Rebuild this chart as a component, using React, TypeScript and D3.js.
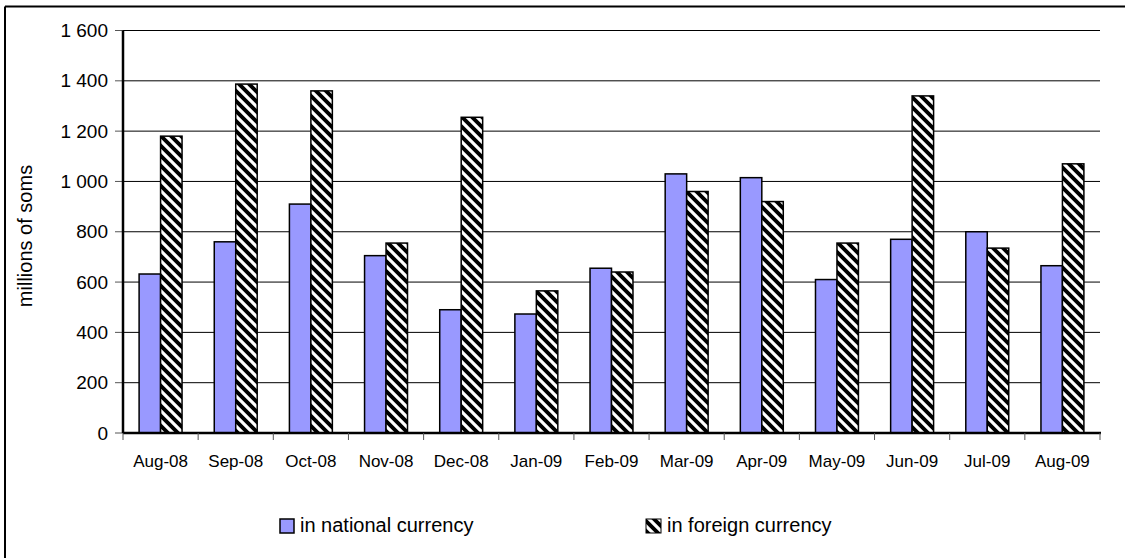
import React from "react";
import * as d3 from "d3";

const categories = ["Aug-08","Sep-08","Oct-08","Nov-08","Dec-08","Jan-09","Feb-09","Mar-09","Apr-09","May-09","Jun-09","Jul-09","Aug-09"];
const nationalValues = [632, 760, 910, 705, 490, 473, 655, 1030, 1015, 610, 770, 800, 665];
const foreignValues = [1180, 1387, 1360, 755, 1255, 565, 640, 960, 920, 755, 1340, 735, 1070];
const yTicks = [0, 200, 400, 600, 800, 1000, 1200, 1400, 1600];
const seriesNames = ["in national currency", "in foreign currency"];

const W = 1125, H = 558;
const left = 123, right = 1100, top = 30.5, bottom = 433;

function fmt(v: number) {
  return d3.format(",")(v).replace(/,/g, " ");
}

export default function App() {
  const x0 = d3.scaleBand<string>().domain(categories).range([left, right]).paddingInner(0).paddingOuter(0);
  const y = d3.scaleLinear().domain([0, 1600]).range([bottom, top]);
  const bw = x0.bandwidth() / 3.5;
  const off = (x0.bandwidth() - 2 * bw) / 2;
  const font = "Arial, 'Liberation Sans', sans-serif";
  return (
    <svg width={W} height={H} style={{ position: "absolute", left: 0, top: 0, background: "#fff" }} fontFamily={font}>
      <defs>
        <pattern id="hatch" patternUnits="userSpaceOnUse" width="10" height="10">
          <rect width="10" height="10" fill="#000" />
          <path d="M-2,-2 L12,12 M-2,8 L2,12 M8,-2 L12,2" stroke="#fff" strokeWidth="3.2" />
        </pattern>
      </defs>
      <rect x={0} y={0} width={W} height={H} fill="#fff" />
      {/* outer frame (cropped) */}
      <line x1={5} y1={6.5} x2={W} y2={6.5} stroke="#000" strokeWidth={2} />
      <line x1={5} y1={6.5} x2={5} y2={H} stroke="#000" strokeWidth={2} />
      {/* gridlines */}
      {yTicks.filter(t => t > 0).map(t => (
        <line key={t} x1={left} x2={right} y1={y(t)} y2={y(t)} stroke="#000" strokeWidth={1} />
      ))}
      {/* y ticks and labels */}
      {yTicks.map(t => (
        <g key={"yt" + t}>
          <line x1={left - 8} x2={left} y1={y(t)} y2={y(t)} stroke="#555" strokeWidth={1} />
          <text x={left - 15} y={y(t)} dy="0.35em" textAnchor="end" fontSize={19}>{fmt(t)}</text>
        </g>
      ))}
      {/* bars */}
      {categories.map((c, i) => {
        const bx = (x0(c) as number) + off;
        return (
          <g key={c}>
            <rect x={bx} y={y(nationalValues[i])} width={bw} height={bottom - y(nationalValues[i])} fill="#9999FF" stroke="#000" strokeWidth={1.5} />
            <rect x={bx + bw} y={y(foreignValues[i])} width={bw} height={bottom - y(foreignValues[i])} fill="url(#hatch)" stroke="#000" strokeWidth={1.5} />
          </g>
        );
      })}
      {/* axes */}
      <line x1={left} x2={left} y1={top} y2={bottom} stroke="#000" strokeWidth={2.5} />
      <line x1={left} x2={right + 1} y1={bottom} y2={bottom} stroke="#000" strokeWidth={2.5} />
      {categories.map((c) => (
        <line key={"xt" + c} x1={x0(c) as number} x2={x0(c) as number} y1={bottom} y2={bottom + 7} stroke="#555" strokeWidth={1} />
      ))}
      <line x1={right} x2={right} y1={bottom} y2={bottom + 7} stroke="#555" strokeWidth={1} />
      {categories.map((c) => (
        <text key={"xl" + c} x={(x0(c) as number) + x0.bandwidth() / 2} y={467} textAnchor="middle" fontSize={17}>{c}</text>
      ))}
      {/* y axis title */}
      <text transform={`translate(32,236) rotate(-90)`} textAnchor="middle" fontSize={20}>millions of soms</text>
      {/* legend */}
      <rect x={280} y={519} width={14} height={14} fill="#9999FF" stroke="#000" strokeWidth={1.5} />
      <text x={300} y={532} fontSize={20}>{seriesNames[0]}</text>
      <rect x={646} y={519} width={15} height={14} fill="url(#hatch)" stroke="#000" strokeWidth={1} />
      <text x={667} y={532} fontSize={20}>{seriesNames[1]}</text>
    </svg>
  );
}
